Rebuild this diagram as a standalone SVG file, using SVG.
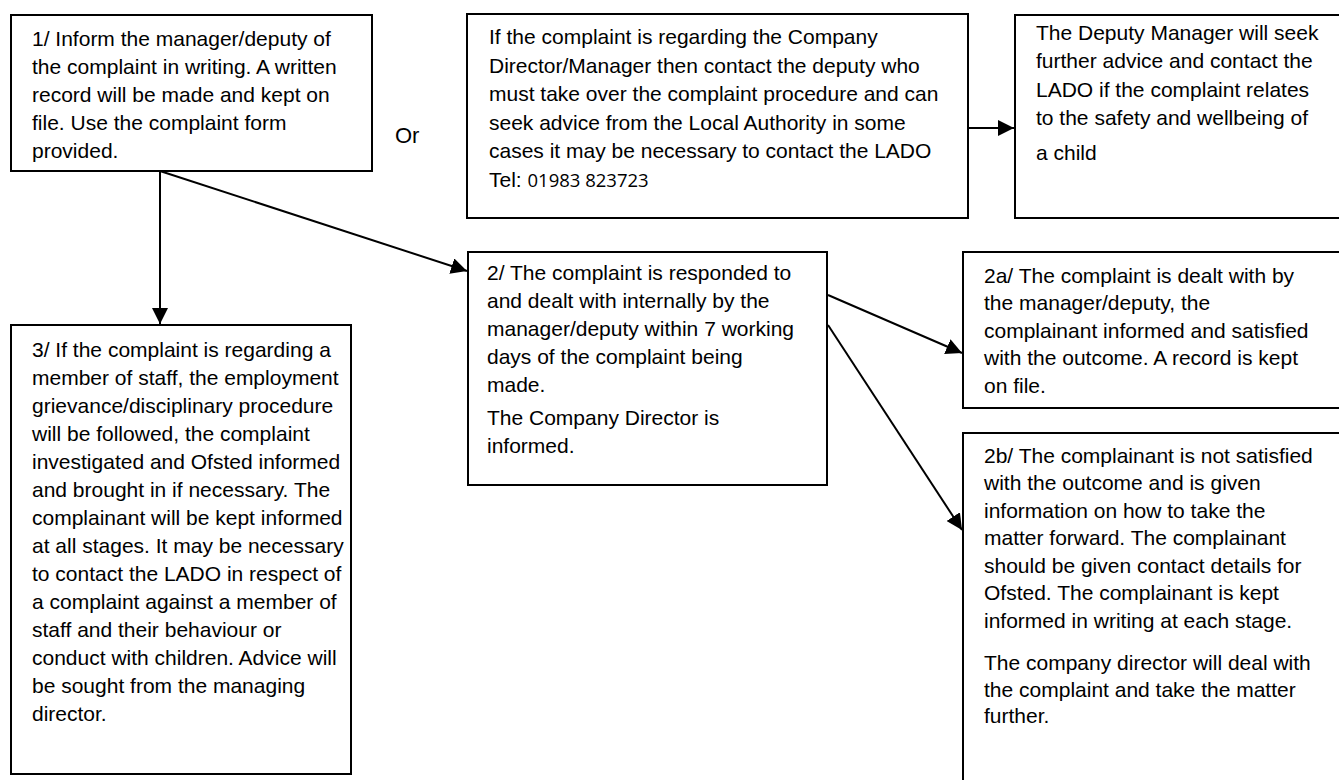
<svg xmlns="http://www.w3.org/2000/svg" width="1339" height="780" viewBox="0 0 1339 780">
<defs>
<marker id="ah" viewBox="0 0 10 10" refX="10" refY="5" markerWidth="8" markerHeight="8" markerUnits="strokeWidth" orient="auto">
<path d="M0,0 L10,5 L0,10 Z" fill="#000"/>
</marker>
</defs>
<style>
.box{fill:#fff;stroke:#000;stroke-width:2}
.t{font-family:"Liberation Sans",Arial,sans-serif;font-size:21px;fill:#000}
.n{font-family:"Open Sans","Noto Sans",sans-serif;font-size:18.5px}
.c{stroke:#000;stroke-width:2;fill:none;marker-end:url(#ah)}
</style>
<rect width="1339" height="780" fill="#fff"/>
<g id="connectors">
<line class="c" x1="160" y1="171" x2="160" y2="324"/>
<line class="c" x1="160" y1="171" x2="467" y2="271"/>
<line class="c" x1="968" y1="128" x2="1014" y2="128"/>
<line class="c" x1="828" y1="295" x2="962" y2="353"/>
<line class="c" x1="828" y1="325" x2="962" y2="530"/>
</g>
<g id="node1">
<rect class="box" x="11" y="15" width="361" height="156"/>
<text class="t"><tspan x="32" y="46">1/ Inform the manager/deputy of</tspan><tspan x="32" y="74">the complaint in writing. A written</tspan><tspan x="32" y="102">record will be made and kept on</tspan><tspan x="32" y="130">file. Use the complaint form</tspan><tspan x="32" y="158">provided.</tspan></text>
</g>
<g id="or">
<text class="t" x="395" y="143" style="font-size:22px">Or</text>
</g>
<g id="node-director">
<rect class="box" x="467" y="14" width="501" height="204"/>
<text class="t"><tspan x="489" y="44">If the complaint is regarding the Company</tspan><tspan x="489" y="73">Director/Manager then contact the deputy who</tspan><tspan x="489" y="101">must take over the complaint procedure and can</tspan><tspan x="489" y="130">seek advice from the Local Authority in some</tspan><tspan x="489" y="158">cases it may be necessary to contact the LADO</tspan><tspan x="489" y="187">Tel: <tspan class="n">01983 823723</tspan></tspan></text>
</g>
<g id="node-deputy">
<rect class="box" x="1015" y="15" width="340" height="203"/>
<text class="t"><tspan x="1036" y="40">The Deputy Manager will seek</tspan><tspan x="1036" y="68">further advice and contact the</tspan><tspan x="1036" y="97">LADO if the complaint relates</tspan><tspan x="1036" y="125">to the safety and wellbeing of</tspan><tspan x="1036" y="160">a child</tspan></text>
</g>
<g id="node3">
<rect class="box" x="11" y="325" width="340" height="449"/>
<text class="t"><tspan x="32" y="357">3/ If the complaint is regarding a</tspan><tspan x="32" y="385">member of staff, the employment</tspan><tspan x="32" y="413">grievance/disciplinary procedure</tspan><tspan x="32" y="441">will be followed, the complaint</tspan><tspan x="32" y="469">investigated and Ofsted informed</tspan><tspan x="32" y="497">and brought in if necessary. The</tspan><tspan x="32" y="525">complainant will be kept informed</tspan><tspan x="32" y="553">at all stages. It may be necessary</tspan><tspan x="32" y="581">to contact the LADO in respect of</tspan><tspan x="32" y="609">a complaint against a member of</tspan><tspan x="32" y="637">staff and their behaviour or</tspan><tspan x="32" y="665">conduct with children. Advice will</tspan><tspan x="32" y="693">be sought from the managing</tspan><tspan x="32" y="721">director.</tspan></text>
</g>
<g id="node2">
<rect class="box" x="468" y="252" width="359" height="233"/>
<text class="t"><tspan x="487" y="280">2/ The complaint is responded to</tspan><tspan x="487" y="308">and dealt with internally by the</tspan><tspan x="487" y="336">manager/deputy within 7 working</tspan><tspan x="487" y="364">days of the complaint being</tspan><tspan x="487" y="392">made.</tspan><tspan x="487" y="425">The Company Director is</tspan><tspan x="487" y="453">informed.</tspan></text>
</g>
<g id="node2a">
<rect class="box" x="963" y="252" width="392" height="156"/>
<text class="t"><tspan x="984" y="283">2a/ The complaint is dealt with by</tspan><tspan x="984" y="310">the manager/deputy, the</tspan><tspan x="984" y="338">complainant informed and satisfied</tspan><tspan x="984" y="365">with the outcome. A record is kept</tspan><tspan x="984" y="393">on file.</tspan></text>
</g>
<g id="node2b">
<rect class="box" x="963" y="433" width="392" height="380"/>
<text class="t"><tspan x="984" y="463">2b/ The complainant is not satisfied</tspan><tspan x="984" y="490">with the outcome and is given</tspan><tspan x="984" y="518">information on how to take the</tspan><tspan x="984" y="545">matter forward. The complainant</tspan><tspan x="984" y="573">should be given contact details for</tspan><tspan x="984" y="600">Ofsted. The complainant is kept</tspan><tspan x="984" y="628">informed in writing at each stage.</tspan><tspan x="984" y="670">The company director will deal with</tspan><tspan x="984" y="697">the complaint and take the matter</tspan><tspan x="984" y="723">further.</tspan></text>
</g>
</svg>
